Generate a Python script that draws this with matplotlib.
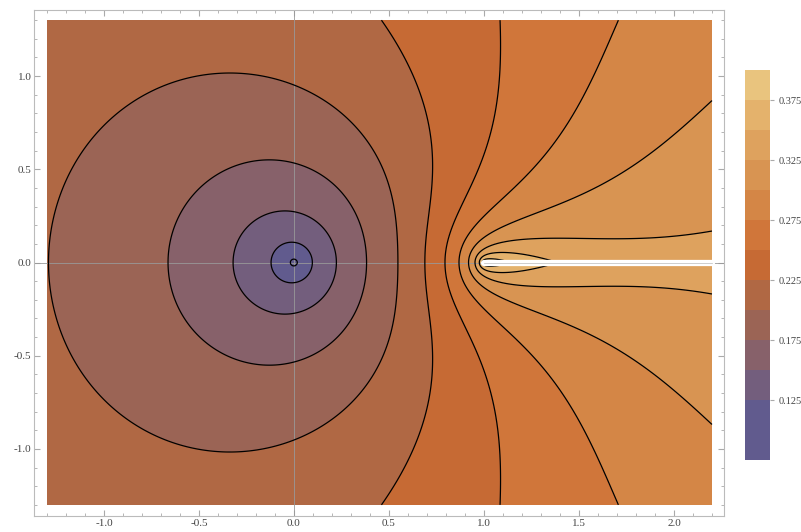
import numpy as np
import matplotlib
matplotlib.use("Agg")
import matplotlib.pyplot as plt
from matplotlib.ticker import MultipleLocator, FormatStrFormatter

plt.rcParams['font.family'] = ['Liberation Serif', 'DejaVu Serif']

# contour values and points on each contour line (upper half, y >= 0)
line_levels = [0.100, 0.125, 0.150, 0.175, 0.200, 0.225, 0.250, 0.275, 0.300, 0.325, 0.350]
line_x = [
    [0.026, -0.026, 0.0],
    [0.102, -0.112, -0.004],
    [0.233, -0.298, -0.039, 0.172],
    [0.396, -0.656, -0.117, 0.207, 0.365],
    [-1.277, -1.144, -0.916, -0.284, 0.032, 0.295, 0.453, 0.54, 0.555],
    [0.444, 0.628, 0.698, 0.716, 0.712, 0.707],
    [1.075, 1.093, 1.049, 1.005, 0.961, 0.865, 0.821, 0.81],
    [1.68, 1.51, 1.383, 1.084, 0.909, 0.874],
    [2.19, 2.014, 1.839, 1.523, 1.26, 1.049, 0.961, 0.923],
    [2.198, 1.996, 1.523, 1.137, 1.014, 0.97, 0.953],
    [0.974, 1.049, 1.225],
]
line_y = [
    [0.0, 0.0, 0.026],
    [0.0, 0.0, 0.102],
    [0.0, 0.0, 0.27, 0.181],
    [0.0, 0.0, 0.552, 0.393, 0.181],
    [0.0, 0.525, 0.843, 1.007, 0.949, 0.80, 0.534, 0.27, 0.0],
    [1.30, 1.063, 0.80, 0.534, 0.27, 0.0],
    [1.30, 1.0, 0.834, 0.667, 0.534, 0.27, 0.138, 0.0],
    [1.30, 0.84, 0.667, 0.349, 0.138, 0.0],
    [0.85, 0.667, 0.525, 0.402, 0.296, 0.19, 0.085, 0.0],
    [0.146, 0.099, 0.111, 0.123, 0.102, 0.049, 0.0],
    [0.0, 0.032, 0.014],
]
# rough values read inside bands (corners, end of the cut)
spot_x = [-1.3, 2.2, 2.2]
spot_y = [1.3, 1.3, 0.01]
spot_v = [0.212, 0.29, 0.335]

# shading bands and their colours
band_edges = [0.05, 0.1, 0.125, 0.15, 0.175, 0.2, 0.225, 0.25, 0.275, 0.3, 0.325, 0.35, 0.375, 0.4]
band_colors = ['#615b8e', '#615b8e', '#735e7d', '#87616a', '#9b6455', '#b06844', '#c66a34',
               '#d0763a', '#d48646', '#d89452', '#dea25e', '#e4b26c', '#e9c47e']
bar_edges = [0.075, 0.125, 0.15, 0.175, 0.2, 0.225, 0.25, 0.275, 0.3, 0.325, 0.35, 0.375, 0.4]
bar_ticks = [0.125, 0.175, 0.225, 0.275, 0.325, 0.375]

cut_x = [1.0, 2.2]
cut_y = [0.0, 0.0]


def design(x, y, p, n, s):
    z = x + 1j * y
    r = np.abs(z)
    w = np.sqrt(1 - z)
    aw = np.abs(w)
    ag = 1 / np.abs(1 + w)
    return np.stack([np.ones_like(r), r**p, r**(2 * p), ag**n, ag**(2 * n),
                     w.real, aw, w.real / (s + aw), w.real / (0.25 + aw), x, y * y], axis=-1)


# smooth surface through the read points; weights ~ 1/|grad| so the error is a distance
px = np.concatenate([np.array(v, float) for v in line_x] + [np.array(spot_x)])
py = np.concatenate([np.array(v, float) for v in line_y] + [np.array(spot_y)])
pv = np.concatenate([np.full(len(v), l) for v, l in zip(line_x, line_levels)] + [np.array(spot_v)])

best = None
e = 1e-4
for p in np.arange(0.3, 1.01, 0.05):
    for n in range(1, 7):
        for s in [0.6, 1.0, 1.5]:
            w = np.ones_like(pv)
            A = design(px, py, p, n, s)
            for it in range(5):
                coef, *_ = np.linalg.lstsq(A * w[:, None], pv * w, rcond=None)
                gx_ = (design(px + e, py, p, n, s) - design(px - e, py, p, n, s)) @ coef / (2 * e)
                gy_ = (design(px, py + e, p, n, s) - design(px, py - e, p, n, s)) @ coef / (2 * e)
                w = 1 / np.maximum(np.hypot(gx_, gy_), 0.03)
            err = np.sqrt(np.mean(((A @ coef - pv) * w) ** 2))
            if best is None or err < best[0]:
                best = (err, p, n, s, coef)
err, p_best, n_best, s_best, coef = best

gx = np.linspace(-1.3, 2.2, 701)
gy = np.linspace(-1.3, 1.3, 521)
X, Y = np.meshgrid(gx, gy)
F = design(X, Y, p_best, n_best, s_best) @ coef
F = np.clip(F, 0.0501, 0.3999)

fig = plt.figure(figsize=(8.01, 5.32), dpi=100)
ax = fig.add_axes([0.0428, 0.030, 0.861, 0.951])
ax.contourf(X, Y, F, levels=band_edges, colors=band_colors)
ax.axhline(0, color='#999999', lw=0.6, zorder=2)
ax.axvline(0, color='#999999', lw=0.6, zorder=2)
ax.contour(X, Y, F, levels=line_levels + [0.375], colors='black', linewidths=0.9, zorder=3)
ax.plot(cut_x, cut_y, color='white', lw=4.5, solid_capstyle='round', zorder=4)
ax.plot(cut_x, cut_y, color='#bbbbbb', lw=0.5, zorder=5)

ax.set_xlim(-1.367, 2.263)
ax.set_ylim(-1.36, 1.354)
for a in (ax.xaxis, ax.yaxis):
    a.set_major_locator(MultipleLocator(0.5))
    a.set_minor_locator(MultipleLocator(0.1))
    a.set_major_formatter(FormatStrFormatter('%.1f'))
ax.tick_params(which='both', direction='in', top=True, right=True, color='#aaaaaa',
               labelcolor='#444444', labelsize=8, pad=2)
ax.tick_params(which='major', length=4.5)
ax.tick_params(which='minor', length=2.5)
for sp in ax.spines.values():
    sp.set_color('#bbbbbb')
    sp.set_linewidth(0.8)

cax = fig.add_axes([745 / 801, 72 / 532, 25 / 801, 390 / 532])
for lo, hi, c in zip(bar_edges[:-1], bar_edges[1:], band_colors[1:]):
    cax.axhspan(lo, hi, color=c, lw=0)
cax.set_ylim(0.075, 0.4)
cax.set_xlim(0, 1)
cax.set_xticks([])
cax.yaxis.tick_right()
cax.set_yticks(bar_ticks)
cax.yaxis.set_major_formatter(FormatStrFormatter('%.3f'))
cax.tick_params(axis='y', direction='out', length=3, color='#aaaaaa',
                labelcolor='#444444', labelsize=7.5, pad=3)
for sp in cax.spines.values():
    sp.set_visible(False)

fig.savefig('out.png', dpi=100)
